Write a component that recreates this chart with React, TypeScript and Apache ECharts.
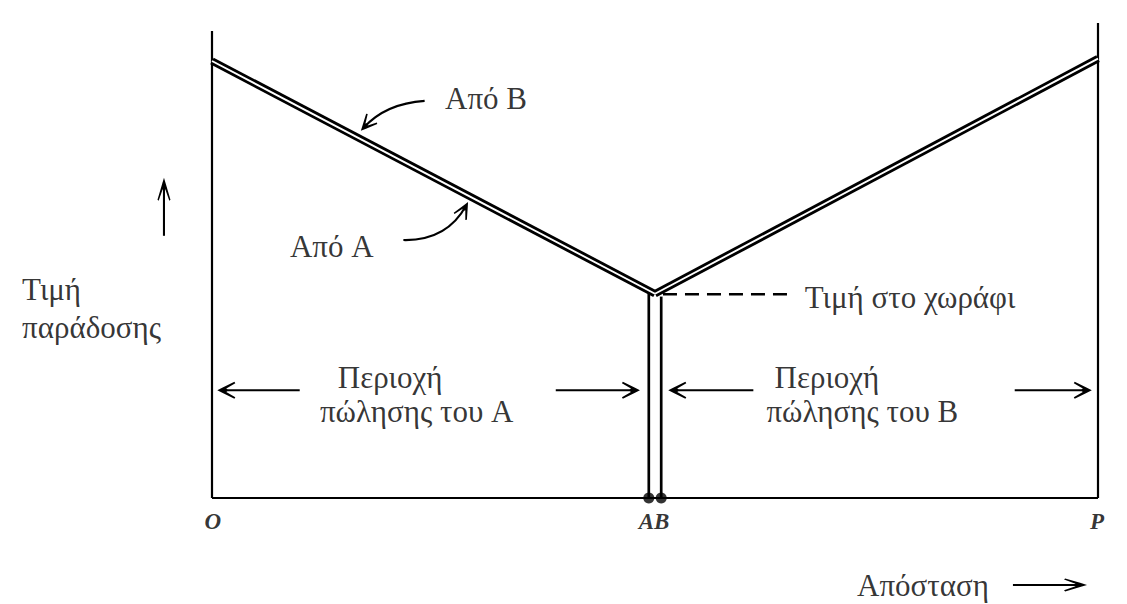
import React, { useEffect, useRef } from "react";
import * as echarts from "echarts";

// ---- Chart values (distance 0..100 from O to P, delivered price 0..100) ----
const axisLeft = [[0, 0], [0, 98.3]];
const axisRight = [[100, 0], [100, 100]];
const axisBottom = [[0, 0], [100, 0]];
const priceFromA = [[0, 92], [50, 43]];
const priceFromB = [[50, 43], [100, 92.5]];
const boundaryA = [[49.3, 0], [49.3, 43]];
const boundaryB = [[50.7, 0], [50.7, 42.4]];
const boundaryDots = [[49.3, 0], [50.7, 0]];
const farmPrice = [[50.9, 42.9], [65.2, 42.9]];

// curved pointer arrows: [startX, startY, controlX, controlY, tipX, tipY]
const pointerArrows = [
  [24.0, 83.6, 19.6, 83.05, 16.8, 77.3],
  [21.6, 54.3, 26.5, 54.1, 28.9, 62.3],
];
// market-area arrows: [startX, startY, tipX, tipY]
const areaArrows = [
  [9.9, 22.7, 0.6, 22.7],
  [38.8, 22.7, 48.3, 22.7],
  [61.1, 22.7, 51.5, 22.7],
  [90.6, 22.7, 99.3, 22.7],
];
// axis direction arrows: [startX, startY, tipX, tipY]
const axisArrows = [
  [-5.42, 55.2, -5.42, 67.4],
  [90.4, -18.3, 98.76, -18.3],
];

const annotations = [
  { text: "Από B", x: 26.3, y: 84.2, align: "left" },
  { text: "Από A", x: 8.8, y: 53.05, align: "left" },
  { text: "Τιμή", x: -21.44, y: 43.8, align: "left" },
  { text: "παράδοσης", x: -21.44, y: 36.0, align: "left" },
  { text: "Τιμή στο χωράφι", x: 66.9, y: 42.3, align: "left" },
  { text: "Περιοχή", x: 20.1, y: 25.3, align: "center" },
  { text: "πώλησης του A", x: 23.1, y: 18.3, align: "center" },
  { text: "Περιοχή", x: 69.4, y: 25.3, align: "center" },
  { text: "πώλησης του B", x: 73.4, y: 18.3, align: "center" },
  { text: "Απόσταση", x: 72.8, y: -18.5, align: "left" },
];
const pointNames = [
  { text: "O", x: 0.1, y: -5.05 },
  { text: "AB", x: 49.9, y: -5.05 },
  { text: "P", x: 99.9, y: -5.05 },
];

const HEAD = [
  [0, 0], [0.3, -0.32], [0.95, -1], [1, -0.82], [0.5, -0.2], [0.6, 0],
  [0.5, 0.2], [1, 0.82], [0.95, 1], [0.3, 0.32],
];

function arrowRenderer(headLen: number, headHalf: number) {
  return (_params: any, api: any) => {
    const p1 = api.coord([api.value(0), api.value(1)]);
    const c = api.coord([api.value(2), api.value(3)]);
    const p2 = api.coord([api.value(4), api.value(5)]);
    const dx = p2[0] - c[0];
    const dy = p2[1] - c[1];
    const len = Math.hypot(dx, dy) || 1;
    const ux = dx / len, uy = dy / len;
    const nx = -uy, ny = ux;
    const pts = HEAD.map(([b, s]) => [
      p2[0] - ux * b * headLen + nx * s * headHalf,
      p2[1] - uy * b * headLen + ny * s * headHalf,
    ]);
    return {
      type: "group",
      children: [
        {
          type: "bezierCurve",
          shape: { x1: p1[0], y1: p1[1], x2: p2[0] - ux * 4, y2: p2[1] - uy * 4, cpx1: c[0], cpy1: c[1] },
          style: { stroke: "#000", lineWidth: 2.1, fill: "none" },
        },
        { type: "polygon", shape: { points: pts }, style: { fill: "#000" } },
      ],
    };
  };
}

const straight = (a: number[][]) =>
  a.map(([x1, y1, x2, y2]) => [x1, y1, (x1 + x2) / 2, (y1 + y2) / 2, x2, y2]);

const FONT = "'Liberation Serif', 'DejaVu Serif', serif";

export default function App() {
  const ref = useRef<HTMLDivElement>(null);
  useEffect(() => {
    if (!ref.current) return;
    const chart = echarts.init(ref.current, null, { renderer: "svg" });
    const line = (data: number[][], width: number, color = "#000", z = 2, type: any = "solid") => ({
      type: "line",
      data,
      symbol: "none",
      silent: true,
      clip: false,
      z,
      lineStyle: { color, width, type, cap: "butt" },
    });
    chart.setOption({
      animation: false,
      backgroundColor: "#fff",
      grid: { left: 212, right: 29, top: 23, bottom: 106, outerBoundsMode: "none" },
      xAxis: { type: "value", min: 0, max: 100, show: false },
      yAxis: { type: "value", min: 0, max: 100, show: false },
      series: [
        line(axisLeft, 2.2),
        line(axisRight, 2.2),
        line(axisBottom, 2.2),
        line(boundaryA, 2.7),
        line(boundaryB, 2.7),
        line(farmPrice, 2.7, "#000", 2, [14, 8]),
        line(priceFromA, 7.5, "#000", 3),
        line(priceFromB, 7.5, "#000", 3),
        line(priceFromA, 1.9, "#fff", 4),
        line(priceFromB, 1.9, "#fff", 4),
        {
          type: "scatter",
          data: boundaryDots,
          symbolSize: 11,
          itemStyle: { color: "#000" },
          silent: true,
          z: 5,
        },
        {
          type: "custom",
          data: pointerArrows,
          renderItem: arrowRenderer(17, 7.5),
          clip: false,
          silent: true,
          z: 6,
        },
        {
          type: "custom",
          data: straight(areaArrows),
          renderItem: arrowRenderer(18, 8.5),
          clip: false,
          silent: true,
          z: 6,
        },
        {
          type: "custom",
          data: straight(axisArrows),
          renderItem: arrowRenderer(23, 6.5),
          clip: false,
          silent: true,
          z: 6,
        },
        {
          type: "scatter",
          symbolSize: 1,
          itemStyle: { color: "transparent" },
          clip: false,
          silent: true,
          z: 7,
          data: annotations.map((a) => ({
            name: a.text,
            value: [a.x, a.y],
            label: { align: a.align },
          })),
          label: {
            show: true,
            position: "inside",
            formatter: "{b}",
            color: "#000",
            fontFamily: FONT,
            fontSize: 31,
            verticalAlign: "middle",
          },
        },
        {
          type: "scatter",
          symbolSize: 1,
          itemStyle: { color: "transparent" },
          clip: false,
          silent: true,
          z: 7,
          data: pointNames.map((a) => ({ name: a.text, value: [a.x, a.y] })),
          label: {
            show: true,
            position: "inside",
            formatter: "{b}",
            color: "#000",
            fontFamily: FONT,
            fontSize: 23,
            fontStyle: "italic",
            fontWeight: "bold",
            align: "center",
            verticalAlign: "middle",
          },
        },
      ],
    });
    return () => chart.dispose();
  }, []);
  return (
    <div
      ref={ref}
      style={{ position: "fixed", left: 0, top: 0, width: 1127, height: 604, background: "#fff" }}
    />
  );
}
